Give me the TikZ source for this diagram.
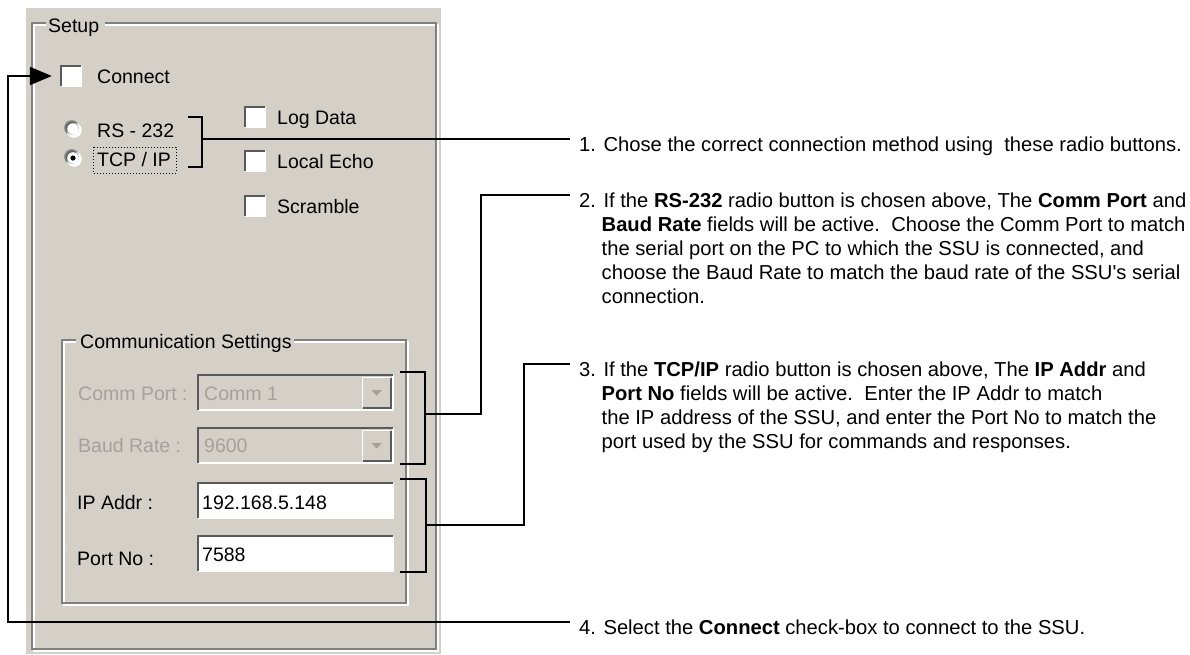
\documentclass[tikz,border=0pt]{standalone}
\usepackage{fontspec}
\setmainfont{Liberation Sans}
\usetikzlibrary{arrows.meta}
\definecolor{panelgray}{HTML}{D4D0C8}
\definecolor{shadowgray}{HTML}{808080}
\definecolor{darkedge}{HTML}{5A5A5A}
\definecolor{distext}{HTML}{A4A09C}

\begin{document}
\begin{tikzpicture}[x=1pt,y=-1pt,
  gui/.style={font=\fontsize{19.5}{22}\selectfont, inner sep=0pt, anchor=base west},
  dis/.style={gui, text=distext},
  note/.style={font=\fontsize{20.2}{24}\selectfont, inner sep=0pt, anchor=base west},
  etchdark/.style={draw=shadowgray, line width=1.8pt},
  etchlight/.style={draw=white, line width=1.8pt},
  sunkdark/.style={draw=darkedge, line width=2.4pt},
  sunklight/.style={draw=white, line width=2pt},
  chkbox/.style={minimum size=20pt, inner sep=0pt, fill=white},
  fieldbox/.style={anchor=north west, minimum width=195pt, minimum height=35pt, inner sep=0pt},
  dropbtn/.style={anchor=north east, minimum width=28pt, minimum height=30pt, inner sep=0pt, fill=panelgray},
  leadline/.style={draw=black, line width=2pt},
  bracketline/.style={draw=black, line width=2pt},
]
\useasboundingbox (0,0) rectangle (1190,654);
\fill[white] (0,0) rectangle (1190,654);

% dialog panel
\fill[panelgray] (26,8) rectangle (441,654);

% "Setup" group frame (etched)
\draw[etchlight] (46,25) -| (34,651) -| (438,25) -- (105,25);
\draw[etchdark]  (46,23) -| (32,649) -| (436,23) -- (105,23);
\node[gui] (lblSetup) at (48,32) {Setup};

% "Communication Settings" group frame (etched)
\draw[etchlight] (76,342) -| (64,605) -| (408,342) -- (294,342);
\draw[etchdark]  (76,340) -| (62,603) -| (406,340) -- (294,340);
\node[gui] (lblComm) at (80,348) {Communication Settings};

% check boxes
\node[chkbox] (cbConnect) at (71,76) {};
\node[chkbox] (cbLog) at (255,117) {};
\node[chkbox] (cbEcho) at (255,161) {};
\node[chkbox] (cbScr) at (255,206) {};
\foreach \n in {cbConnect,cbLog,cbEcho,cbScr}{
  \draw[sunklight] (\n.south west) -| (\n.north east);
  \draw[sunkdark] (\n.south west) |- (\n.north east);
}
\node[gui] (lblConnect) at (97,83) {Connect};
\node[gui] (lblLog) at (277,124) {Log Data};
\node[gui] (lblEcho) at (277,168) {Local Echo};
\node[gui] (lblScr) at (277,213) {Scramble};

% radio buttons
\coordinate (rpRS) at (73,129);
\coordinate (rpTCP) at (73,158);
\foreach \p/\n in {rpRS/rbRS,rpTCP/rbTCP}{
  \fill[shadowgray] ([xshift=-1.2pt,yshift=1.2pt]\p) circle[radius=7.6pt];
  \fill[white] ([xshift=1.2pt,yshift=-1.2pt]\p) circle[radius=7.6pt];
  \fill[darkedge] ([xshift=-0.6pt,yshift=0.6pt]\p) circle[radius=6.4pt];
  \node[circle, fill=white, minimum size=11.6pt, inner sep=0pt] (\n) at (\p) {};
}
\fill[black] (rbTCP) circle[radius=2.6pt];
\node[gui] (lblRS) at (97,137) {RS - 232};
\node[gui] (lblTCP) at (97,166) {TCP / IP};
\draw[dotted, line width=1pt] (93,147) rectangle (176,173);

% communication fields
\node[dis] (lblPort) at (78,400) {Comm Port :};
\node[dis] (lblBaud) at (78,452) {Baud Rate :};
\node[gui] (lblIP) at (77,509) {IP Addr :};
\node[gui] (lblNo) at (77,565) {Port No :};

\node[fieldbox, fill=panelgray] (fPort) at (198,375) {};
\node[fieldbox, fill=panelgray] (fBaud) at (198,428) {};
\node[fieldbox, fill=white] (fIP) at (198,483) {};
\node[fieldbox, fill=white] (fNo) at (198,536) {};
\foreach \n in {fPort,fBaud,fIP,fNo}{
  \draw[sunklight] (\n.south west) -| (\n.north east);
  \draw[sunkdark] (\n.south west) |- (\n.north east);
}
\foreach \f/\b in {fPort/bPort,fBaud/bBaud}{
  \node[dropbtn] (\b) at ([xshift=-2.5pt,yshift=-2.5pt]\f.north east) {};
  \draw[white, line width=1.5pt] (\b.south west) |- (\b.north east);
  \draw[darkedge, line width=2pt] (\b.south west) -| (\b.north east);
  \fill[distext] ([xshift=-5pt,yshift=2.5pt]\b.center) -- ([xshift=5pt,yshift=2.5pt]\b.center) -- ([yshift=-3pt]\b.center) -- cycle;
}
\node[dis] (vPort) at (204,400) {Comm 1};
\node[dis] (vBaud) at (204,452) {9600};
\node[gui] (vIP) at (202,509) {192.168.5.148};
\node[gui] (vNo) at (202,561) {7588};

% brackets grouping the controls
\draw[bracketline] (188,117) -| (202,167) -- (188,167);
\coordinate (br1) at (202,139);
\draw[bracketline] (400,372) -| (425,464) -- (400,464);
\coordinate (br2) at (425,414);
\draw[bracketline] (400,479) -| (426,572) -- (400,572);
\coordinate (br3) at (426,525);

% explanatory notes
\node[note] (t1) at (579,151) {1. Chose the correct connection method using\ \ these radio buttons.};

\node[note] (t2a) at (579,207) {2. If the \textbf{RS-232} radio button is chosen above, The \textbf{Comm Port} and};
\node[note] (t2b) at (579,231) {\hphantom{2.\ }\textbf{Baud Rate} fields will be active.\ \ Choose the Comm Port to match};
\node[note] (t2c) at (579,255) {\hphantom{2.\ }the serial port on the PC to which the SSU is connected, and};
\node[note] (t2d) at (579,279) {\hphantom{2.\ }choose the Baud Rate to match the baud rate of the SSU\textquotesingle s serial};
\node[note] (t2e) at (579,303) {\hphantom{2.\ }connection.};

\node[note] (t3a) at (579,376) {3. If the \textbf{TCP/IP} radio button is chosen above, The \textbf{IP Addr} and};
\node[note] (t3b) at (579,400) {\hphantom{3.\ }\textbf{Port No} fields will be active.\ \ Enter the IP Addr to match};
\node[note] (t3c) at (579,424) {\hphantom{3.\ }the IP address of the SSU, and enter the Port No to match the};
\node[note] (t3d) at (579,448) {\hphantom{3.\ }port used by the SSU for commands and responses.};

\node[note] (t4) at (579,634) {4. Select the \textbf{Connect} check-box to connect to the SSU.};

% leader lines
\coordinate (e1) at ([xshift=-9pt,yshift=12pt]t1.base west);
\coordinate (e2) at ([xshift=-9pt,yshift=12pt]t2a.base west);
\coordinate (e3) at ([xshift=-9pt,yshift=12pt]t3a.base west);
\coordinate (e4) at ([xshift=-9pt,yshift=12pt]t4.base west);
\coordinate (k2) at (481,300);
\coordinate (k3) at (524,450);
\coordinate (k4) at (8,300);
\coordinate (tip) at ([xshift=-9pt]cbConnect.west);

\draw[leadline] (br1) -- (br1 -| e1);
\draw[leadline] (br2) -| (k2) |- (e2);
\draw[leadline] (br3) -| (k3) |- (e3);
\draw[leadline, -{Triangle[length=22pt,width=18pt]}] (e4) -| (k4) |- (tip);
\end{tikzpicture}
\end{document}
